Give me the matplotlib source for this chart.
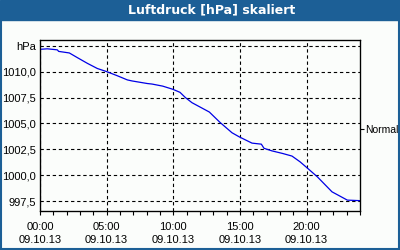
import matplotlib.pyplot as plt
from matplotlib.patches import Rectangle

# Stunden ab 09.10.13 00:00 und Luftdruck [hPa]
hours = [0.0, 0.55, 1.3, 1.4, 2.2, 2.8, 3.55, 4.3, 5.0, 5.8, 6.55, 6.9, 8.05,
         8.4, 9.2, 9.95, 10.5, 10.9, 11.4, 12.7, 13.5, 14.4, 14.95, 15.9, 16.6,
         16.8, 17.4, 18.2, 18.9, 19.5, 20.0, 20.8, 21.9, 23.05, 24.0]
pressure = [1012.15, 1012.2, 1012.1, 1011.95, 1011.8, 1011.35, 1010.8, 1010.3,
            1010.0, 1009.6, 1009.2, 1009.1, 1008.85, 1008.8, 1008.6, 1008.3,
            1008.0, 1007.5, 1007.0, 1006.1, 1005.1, 1004.1, 1003.7, 1003.1,
            1003.0, 1002.6, 1002.35, 1002.1, 1001.85, 1001.3, 1000.75, 999.85,
            998.4, 997.6, 997.55]
ytick_vals = [997.5, 1000.0, 1002.5, 1005.0, 1007.5, 1010.0, 1012.5]
ytick_labels = ['997,5', '1000,0', '1002,5', '1005,0', '1007,5', '1010,0', 'hPa']
xtick_vals = [0, 5, 10, 15, 20]
xtick_labels = ['00:00\n09.10.13', '05:00\n09.10.13', '10:00\n09.10.13',
                '15:00\n09.10.13', '20:00\n09.10.13']
normal_level = 1004.45
title = 'Luftdruck [hPa] skaliert'

blue = '#1c5f96'
plt.rcParams['font.family'] = ['Liberation Sans', 'DejaVu Sans']

fig = plt.figure(figsize=(4, 2.5), dpi=100, facecolor='#fbfdfb')
# Titelleiste und Rahmen
fig.patches.append(Rectangle((0, 0.92), 1, 0.08, transform=fig.transFigure,
                             color=blue, zorder=0))
fig.patches.append(Rectangle((0.0025, 0.004), 0.995, 0.92, transform=fig.transFigure,
                             fill=False, edgecolor=blue, lw=1.5, zorder=0))
fig.text(0.528, 0.96, title, color='white', fontsize=9, fontweight='bold',
         ha='center', va='center', family=['DejaVu Sans'])

ax = fig.add_axes([0.1, 0.156, 0.8, 0.684])
ax.set_facecolor('#fbfdfb')
ax.plot(hours, pressure, color='#0000e6', lw=0.9, zorder=3)
ax.set_xlim(0, 24)
ax.set_ylim(996.55, 1013.05)

ax.set_yticks(ytick_vals, ytick_labels)
ax.set_xticks(xtick_vals, xtick_labels)
ax.set_xticks(range(25), minor=True)
ax.tick_params(axis='y', length=0, pad=3, labelsize=8)
ax.tick_params(axis='x', which='both', length=3, direction='out', pad=5,
               labelsize=8, width=0.8)
for lbl in ax.get_xticklabels():
    lbl.set_linespacing(1.3)
ax.grid(True, color='black', lw=0.8, linestyle=(0, (3, 2.5)))
for s in ax.spines.values():
    s.set_linewidth(0.9)

ax2 = ax.twinx()
ax2.set_ylim(ax.get_ylim())
ax2.set_yticks([normal_level], ['Normal'])
ax2.tick_params(axis='y', length=3, pad=0.5, labelsize=7.5, width=0.8)

fig.savefig('out.png', dpi=100, facecolor=fig.get_facecolor())
